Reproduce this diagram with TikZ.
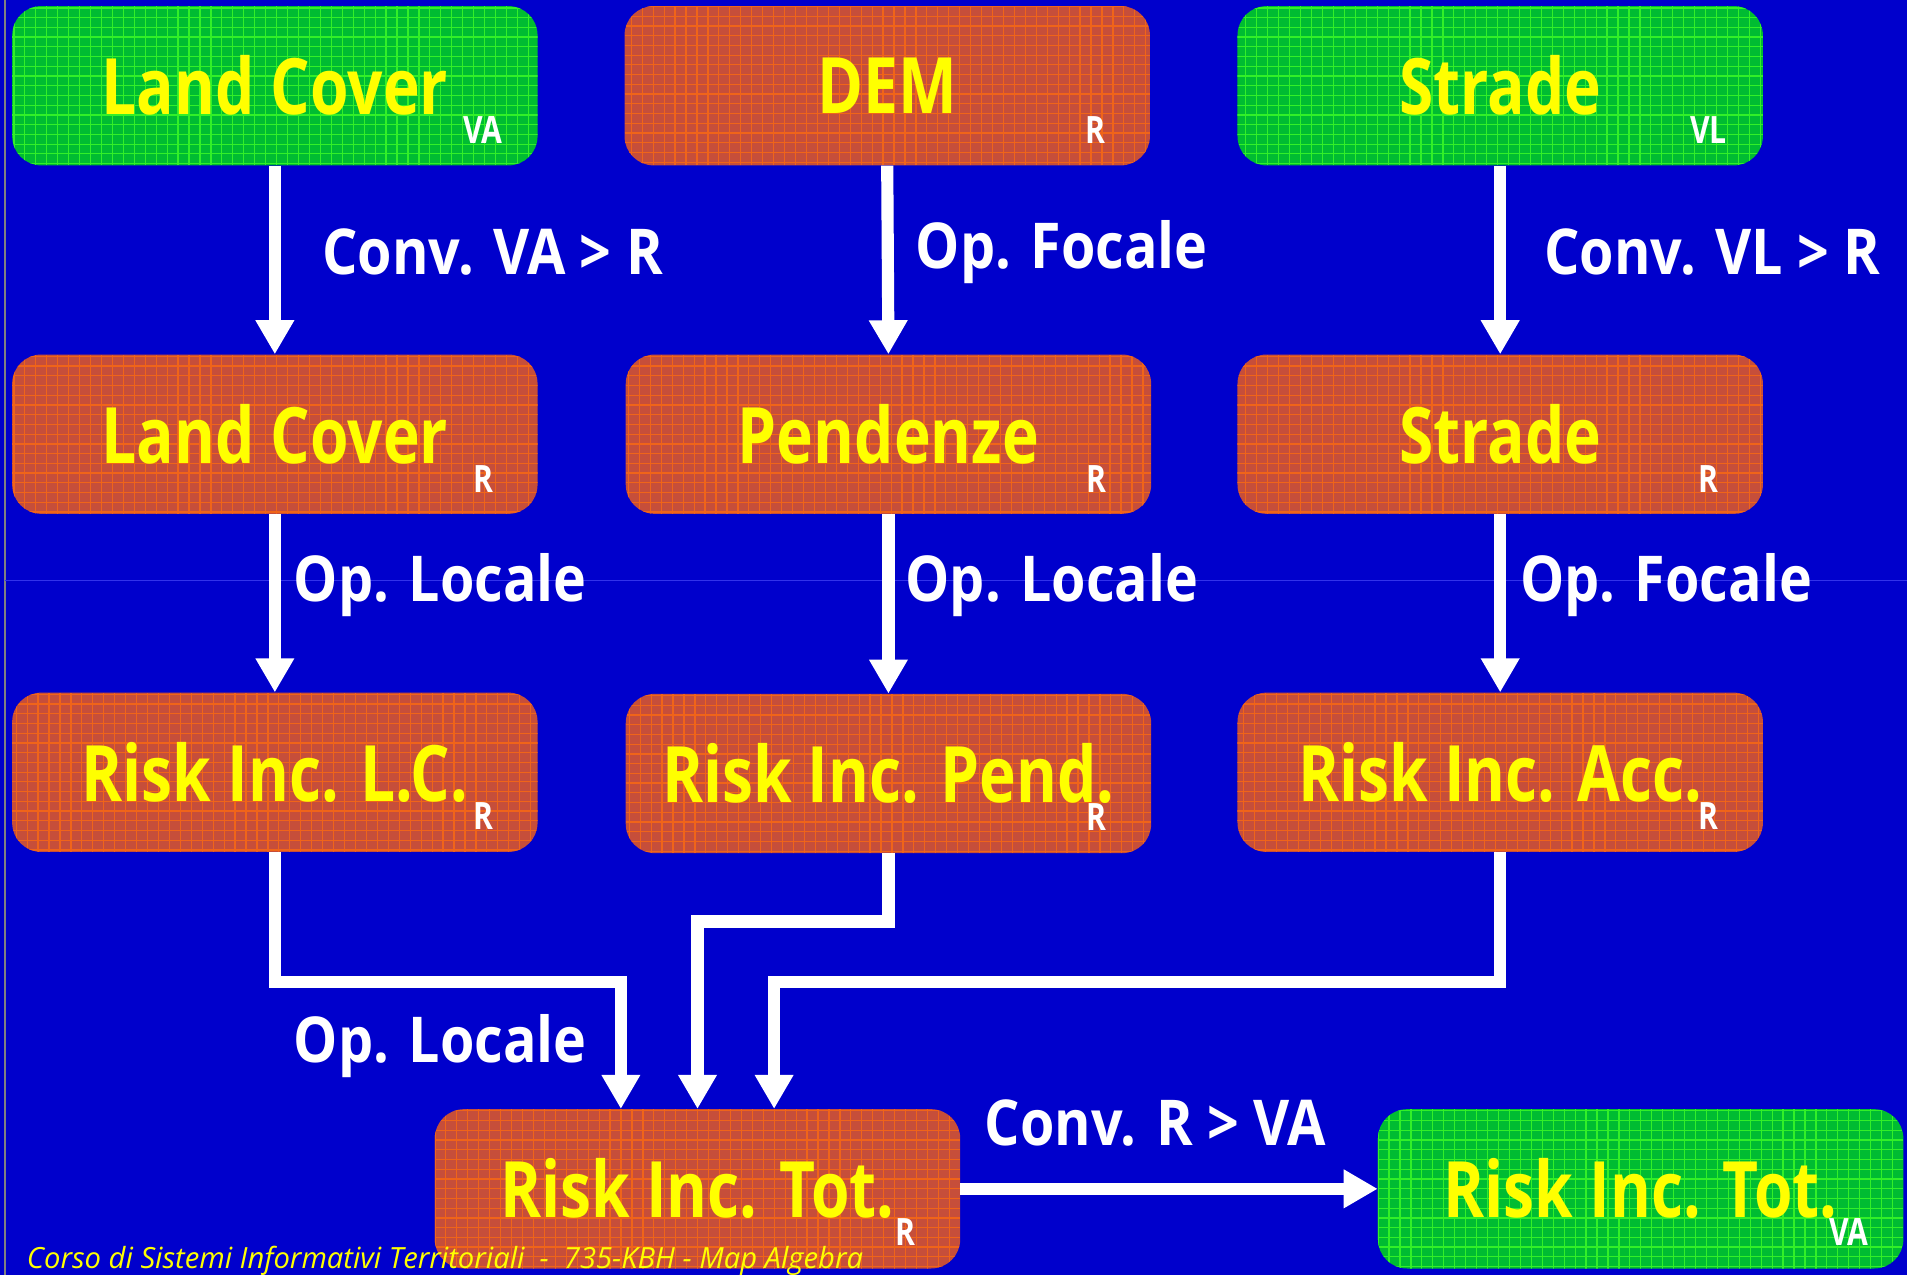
\documentclass[tikz,border=0pt]{standalone}
\usepackage{fontspec}
\setmainfont{Open Sans}[FakeStretch=0.8]
\newfontfamily\labfont{Open Sans}[FakeStretch=0.88]
\newfontfamily\footfont{Open Sans}[FakeStretch=1.0]
\usetikzlibrary{arrows.meta}
\definecolor{bg}{RGB}{0,0,204}
\definecolor{hline}{RGB}{50,50,235}
\definecolor{gfill}{RGB}{0,188,50}
\definecolor{ggrid}{RGB}{50,240,40}
\definecolor{ofill}{RGB}{198,78,58}
\definecolor{ogrid}{RGB}{240,100,25}
\definecolor{ytext}{RGB}{255,255,0}
\tikzset{
  box/.style={rectangle, rounded corners=24pt, minimum width=432pt, minimum height=131pt,
    inner sep=0pt, text=ytext, font=\fontsize{64}{70}\selectfont\bfseries},
  gbox/.style={box, fill=gfill, path picture={\draw[ggrid,line width=1pt]
    (path picture bounding box.south west) grid[xstep=9pt,ystep=8pt] (path picture bounding box.north east);}},
  obox/.style={box, fill=ofill, path picture={\draw[ogrid,line width=1pt]
    (path picture bounding box.south west) grid[xstep=9pt,ystep=8pt] (path picture bounding box.north east);}},
  sub/.style={text=white, inner sep=0pt, font=\fontsize{31}{33}\selectfont\bfseries},
  lab/.style={text=white, inner sep=0pt, font=\labfont\fontsize{52}{56}\selectfont\bfseries},
  foot/.style={text=ytext, inner sep=0pt, font=\footfont\fontsize{24}{26}\selectfont\itshape},
  arr/.style={draw=white, line width=10pt, -{Triangle[width=30pt,length=28pt]}}
}
\begin{document}
\begin{tikzpicture}[x=1pt,y=-1pt]
\fill[bg] (0,0) rectangle (1568,1048);
\useasboundingbox (0,0) rectangle (1568,1048);
\draw[gray, line width=2pt] (4,0) -- (4,1048);
\draw[hline, line width=1pt] (4,477) -- (1568,477);

% boxes
\node[gbox] (lc1) at (226,70.5) {Land Cover};
\node[obox] (dem) at (729.5,70.5) {DEM};
\node[gbox] (str1) at (1233.5,70.5) {Strade};
\node[obox] (lc2) at (226,357) {Land Cover};
\node[obox] (pen) at (730.5,357) {Pendenze};
\node[obox] (str2) at (1233.5,357) {Strade};
\node[obox] (rlc) at (226,635) {Risk Inc. L.C.};
\node[obox] (rpe) at (730.5,636) {Risk Inc. Pend.};
\node[obox] (racc) at (1233.5,635) {Risk Inc. Acc.};
\node[obox] (totr) at (573.5,977.5) {Risk Inc. Tot.};
\node[gbox] (totva) at (1349,977.5) {Risk Inc. Tot.};

% subscripts
\node[sub] (lc1s) at ([xshift=-45pt,yshift=29pt]lc1.south east) {VA};
\node[sub] (dems) at ([xshift=-45pt,yshift=29pt]dem.south east) {R};
\node[sub] (str1s) at ([xshift=-45pt,yshift=29pt]str1.south east) {VL};
\node[sub] (lc2s) at ([xshift=-45pt,yshift=29pt]lc2.south east) {R};
\node[sub] (pens) at ([xshift=-45pt,yshift=29pt]pen.south east) {R};
\node[sub] (str2s) at ([xshift=-45pt,yshift=29pt]str2.south east) {R};
\node[sub] (rlcs) at ([xshift=-45pt,yshift=30pt]rlc.south east) {R};
\node[sub] (rpes) at ([xshift=-45pt,yshift=30pt]rpe.south east) {R};
\node[sub] (raccs) at ([xshift=-45pt,yshift=30pt]racc.south east) {R};
\node[sub] (totrs) at ([xshift=-45pt,yshift=30pt]totr.south east) {R};
\node[sub] (totvas) at ([xshift=-45pt,yshift=30pt]totva.south east) {VA};

% connectors
\draw[arr] (lc1.south) -- (lc2.north);
\draw[arr] (dem.south) -- (pen.north);
\draw[arr] (str1.south) -- (str2.north);
\draw[arr] (lc2.south) -- (rlc.north);
\draw[arr] (pen.south) -- (rpe.north);
\draw[arr] (str2.south) -- (racc.north);
\draw[arr] (rlc.south) -- ++(0,107) -| ([xshift=-63pt]totr.north);
\draw[arr] (rpe.south) -- ++(0,56) -| (totr.north);
\draw[arr] (racc.south) -- ++(0,107) -| ([xshift=63pt]totr.north);
\draw[arr] (totr.east) -- (totva.west);

% labels
\node[lab] (l1) at (405,207) {Conv. VA > R};
\node[lab] (l2) at (873,207) {Op. Focale};
\node[lab] (l3) at (1408,207) {Conv. VL > R};
\node[lab] (l4) at (362,481) {Op. Locale};
\node[lab] (l5) at (865,481) {Op. Locale};
\node[lab] (l6) at (1370,481) {Op. Focale};
\node[lab] (l7) at (362,860) {Op. Locale};
\node[lab] (l8) at (950,923) {Conv. R > VA};

% footer
\node[foot, anchor=base west] (foot) at (22,1043) {Corso di Sistemi Informativi Territoriali \ - \ 735-KBH - Map Algebra};
\end{tikzpicture}
\end{document}
